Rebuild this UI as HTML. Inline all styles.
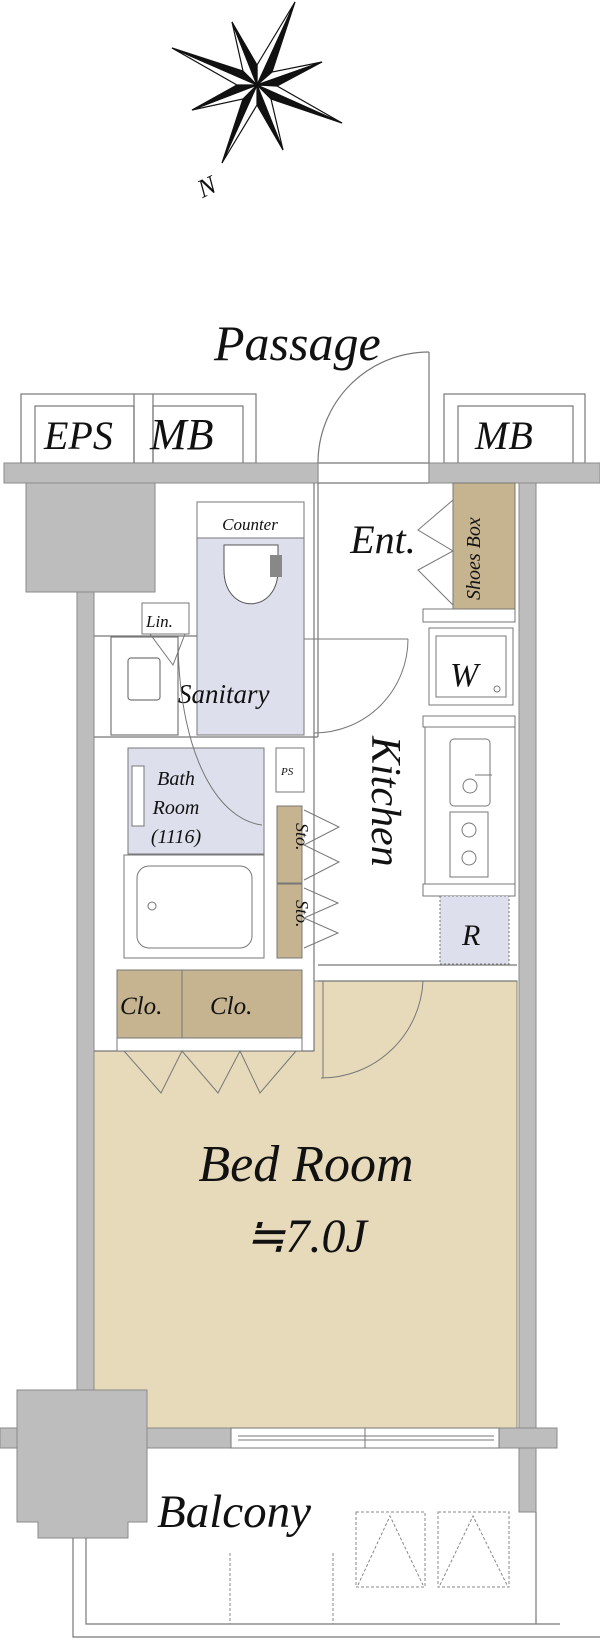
<!DOCTYPE html>
<html><head><meta charset="utf-8"><style>
html,body{margin:0;padding:0;background:#fff}
svg{display:block}
text{font-family:"Liberation Serif",serif;font-style:italic;fill:#111}
</style></head><body>
<svg width="600" height="1641" viewBox="0 0 600 1641" xmlns="http://www.w3.org/2000/svg">
<!-- compass -->
<g stroke="#111" stroke-width="1.2" stroke-linejoin="miter">
<polygon points="257,85 295,2 257,65" fill="#fff"/><polygon points="257,85 295,2 272,72" fill="#111"/>
<polygon points="257,85 322,62 272,72" fill="#fff"/><polygon points="257,85 322,62 277,86" fill="#111"/>
<polygon points="257,85 342,123 277,86" fill="#fff"/><polygon points="257,85 342,123 271,99" fill="#111"/>
<polygon points="257,85 283,150 271,99" fill="#fff"/><polygon points="257,85 283,150 257,105" fill="#111"/>
<polygon points="257,85 222,163 257,105" fill="#fff"/><polygon points="257,85 222,163 243,99" fill="#111"/>
<polygon points="257,85 192,110 243,99" fill="#fff"/><polygon points="257,85 192,110 237,85" fill="#111"/>
<polygon points="257,85 172,48 237,85" fill="#fff"/><polygon points="257,85 172,48 243,71" fill="#111"/>
<polygon points="257,85 232,22 243,71" fill="#fff"/><polygon points="257,85 232,22 257,65" fill="#111"/>
</g>
<text x="198" y="196" font-size="26" transform="rotate(-25 205 187)">N</text>
<text x="214" y="360" font-size="50">Passage</text>

<!-- top boxes -->
<g fill="#fff" stroke="#777" stroke-width="1.2">
<rect x="21" y="394" width="235" height="69"/>
<rect x="35" y="406" width="99" height="57"/>
<rect x="153" y="406" width="90" height="57"/>
<line x1="134" y1="394" x2="134" y2="463"/><line x1="153" y1="394" x2="153" y2="463"/>
<rect x="444" y="394" width="141" height="69"/>
<rect x="458" y="406" width="115" height="57"/>
</g>
<text x="44" y="449" font-size="40">EPS</text>
<text x="150" y="449" font-size="44">MB</text>
<text x="475" y="449" font-size="40">MB</text>

<!-- passage door -->
<g fill="none" stroke="#777" stroke-width="1.2">
<path d="M318,463 A111,111 0 0 1 429,352"/>
<line x1="429" y1="352" x2="429" y2="483"/>
<line x1="318" y1="463" x2="429" y2="463"/><line x1="318" y1="483" x2="429" y2="483"/>
<line x1="318" y1="463" x2="318" y2="483"/>
</g>

<!-- bedroom fill -->
<polygon points="94,1051 314,1051 314,981 517,981 517,1428 147,1428 147,1390 94,1390" fill="#e7dabb" stroke="#8a8270" stroke-width="1"/>

<!-- walls -->
<g fill="#bdbdbd" stroke="#8a8a8a" stroke-width="1">
<rect x="4" y="463" width="314" height="20"/>
<rect x="429" y="463" width="171" height="20"/>
<rect x="26" y="483" width="129" height="109"/>
<rect x="77" y="592" width="17" height="798"/>
<rect x="519" y="483" width="17" height="1029"/>
<rect x="0" y="1428" width="231" height="20"/>
<rect x="499" y="1428" width="58" height="20"/>
<polygon points="17,1390 147,1390 147,1522 128,1522 128,1538 38,1538 38,1522 17,1522"/>
</g>
<rect x="231" y="1428" width="268" height="20" fill="#fff" stroke="#777"/>
<line x1="238" y1="1436" x2="494" y2="1436" stroke="#777"/>
<line x1="238" y1="1440" x2="494" y2="1440" stroke="#777"/>
<line x1="365" y1="1428" x2="365" y2="1448" stroke="#777"/>

<!-- interior lines -->
<g fill="none" stroke="#777" stroke-width="1.2">
<line x1="314" y1="483" x2="314" y2="1051"/>
<line x1="318" y1="483" x2="318" y2="737"/>
<line x1="94" y1="636" x2="197" y2="636"/>
<line x1="94" y1="737" x2="318" y2="737"/>
<rect x="111" y="637" width="67" height="98"/>
<rect x="128" y="658" width="32" height="42" rx="3"/>
<line x1="94" y1="1051" x2="314" y2="1051"/>
<line x1="318" y1="965" x2="517" y2="965"/><line x1="318" y1="981" x2="517" y2="981"/>
</g>

<!-- sanitary -->
<rect x="197" y="538" width="107" height="197" fill="#dde0ec" stroke="#777"/>
<rect x="197" y="502" width="107" height="36" fill="#fff" stroke="#777"/>
<text x="250" y="530" font-size="17" text-anchor="middle">Counter</text>
<path d="M224,545 h54 v25 c0,45 -54,45 -54,0 z" fill="#fff" stroke="#555"/>
<rect x="270" y="555" width="12" height="22" fill="#888"/>
<rect x="142" y="603" width="47" height="31" fill="#fff" stroke="#777"/>
<text x="146" y="627" font-size="17">Lin.</text>
<path d="M150,634 L173,665 L185,634" fill="none" stroke="#777"/>
<text x="178" y="703" font-size="27">Sanitary</text>
<path d="M408,639 A94,94 0 0 1 314,733" fill="none" stroke="#777"/>
<line x1="304" y1="639" x2="408" y2="639" stroke="#777"/>

<!-- bath -->
<rect x="128" y="748" width="136" height="106" fill="#dde0ec" stroke="#777"/>
<rect x="132" y="766" width="12" height="60" fill="#fff" stroke="#777"/>
<text x="176" y="785" font-size="20" text-anchor="middle">Bath</text>
<text x="176" y="814" font-size="20" text-anchor="middle">Room</text>
<text x="176" y="843" font-size="20" text-anchor="middle">(1116)</text>
<path d="M178,643 C180,760 220,820 262,825" fill="none" stroke="#777"/>
<rect x="124" y="855" width="140" height="103" fill="#fff" stroke="#777"/>
<rect x="137" y="866" width="115" height="82" rx="12" fill="#fff" stroke="#777"/>
<circle cx="152" cy="906" r="4" fill="none" stroke="#777"/>
<rect x="276" y="748" width="28" height="44" fill="#fff" stroke="#777"/>
<text x="281" y="775" font-size="11">PS</text>
<rect x="277" y="806" width="25" height="77" fill="#c6b38f" stroke="#777"/>
<rect x="277" y="884" width="25" height="74" fill="#c6b38f" stroke="#777"/>
<text x="0" y="0" font-size="18" transform="translate(296 823) rotate(90)">Sto.</text>
<text x="0" y="0" font-size="18" transform="translate(296 900) rotate(90)">Sto.</text>
<path d="M304,810 L339,827 L304,845 L339,862 L304,880 M304,888 L338,903 L304,918 L338,933 L304,948" fill="none" stroke="#777"/>

<!-- closets -->
<rect x="117" y="970" width="185" height="68" fill="#c6b38f" stroke="#777"/>
<line x1="182" y1="970" x2="182" y2="1038" stroke="#777"/>
<rect x="117" y="1038" width="185" height="13" fill="#fff" stroke="#777"/>
<text x="120" y="1014" font-size="25">Clo.</text>
<text x="210" y="1014" font-size="25">Clo.</text>
<path d="M124,1051 L161,1093 L182,1051 L218,1093 L240,1051 L260,1093 L296,1051" fill="none" stroke="#777"/>
<!-- bedroom door -->
<path d="M423,981 A102,102 0 0 1 321,1078" fill="none" stroke="#777"/>
<line x1="323" y1="981" x2="323" y2="1078" stroke="#777"/>
<text x="306" y="1181" font-size="52" text-anchor="middle">Bed Room</text>
<text x="306" y="1252" font-size="48" text-anchor="middle">≒7.0J</text>

<!-- entrance -->
<rect x="453" y="483" width="62" height="126" fill="#c6b38f" stroke="#777"/>
<text x="0" y="0" font-size="20" transform="translate(480 600) rotate(-90)">Shoes Box</text>
<path d="M453,500 L418,530 L453,551 L418,570 L453,605" fill="none" stroke="#777"/>
<text x="383" y="553" font-size="40" text-anchor="middle">Ent.</text>
<rect x="423" y="609" width="92" height="13" fill="#fff" stroke="#777"/>
<rect x="429" y="628" width="84" height="77" fill="#fff" stroke="#777"/>
<rect x="436" y="636" width="70" height="61" fill="none" stroke="#777"/>
<text x="450" y="686" font-size="34">W</text>
<circle cx="497" cy="689" r="3" fill="none" stroke="#777"/>
<rect x="423" y="716" width="92" height="11" fill="#fff" stroke="#777"/>
<rect x="425" y="727" width="90" height="157" fill="#fff" stroke="#777"/>
<rect x="450" y="739" width="40" height="67" rx="4" fill="#fff" stroke="#777"/>
<circle cx="470" cy="786" r="7" fill="none" stroke="#777"/>
<line x1="475" y1="775" x2="492" y2="775" stroke="#777"/>
<rect x="450" y="812" width="38" height="65" fill="#fff" stroke="#777"/>
<g fill="none" stroke="#777"><circle cx="469" cy="830" r="7"/><circle cx="469" cy="858" r="7"/></g>
<rect x="423" y="884" width="92" height="12" fill="#fff" stroke="#777"/>
<rect x="440" y="896" width="69" height="68" fill="#dde0ec" stroke="#777" stroke-dasharray="2,2"/>
<text x="462" y="945" font-size="30">R</text>
<text x="0" y="0" font-size="42" transform="translate(372 736) rotate(90)">Kitchen</text>

<!-- balcony -->
<g fill="none" stroke="#777" stroke-width="1.2">
<polyline points="86,1538 86,1624 560,1624"/>
<polyline points="73,1538 73,1637 600,1637"/>
<polyline points="536,1512 536,1624"/>
</g>
<text x="157" y="1527" font-size="47">Balcony</text>
<g fill="none" stroke="#888" stroke-dasharray="3,2">
<rect x="356" y="1512" width="69" height="75"/><path d="M358,1585 L390,1516 L423,1585"/>
<rect x="438" y="1512" width="71" height="75"/><path d="M440,1585 L473,1516 L507,1585"/>
<line x1="230" y1="1553" x2="230" y2="1624"/><line x1="333" y1="1553" x2="333" y2="1624"/>
</g>
</svg>
</body></html>
